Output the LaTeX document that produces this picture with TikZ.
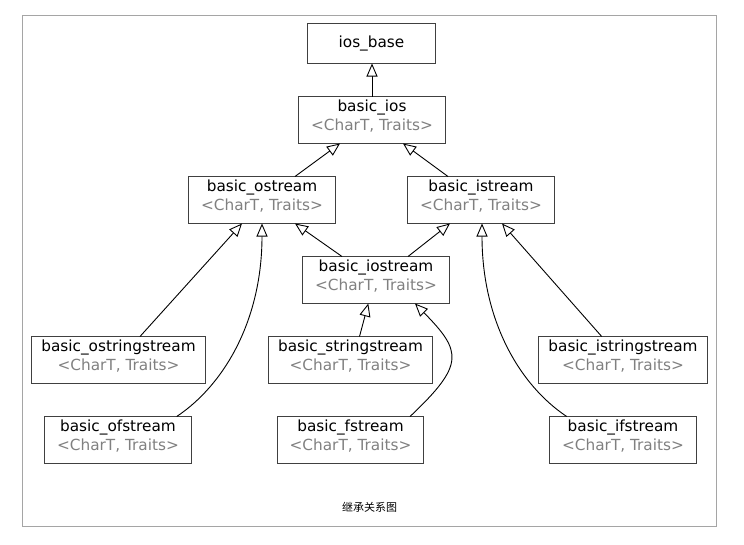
\documentclass[tikz,border=0pt]{standalone}
\usepackage{fontspec}
\setmainfont{DejaVu Sans}
\newfontfamily\cjkfont{Noto Sans CJK SC}
\usetikzlibrary{arrows.meta}
\definecolor{tgray}{RGB}{128,128,128}
\definecolor{boxline}{RGB}{64,64,64}
\definecolor{framegray}{RGB}{165,165,165}
\newcommand{\cls}[1]{\raisebox{3pt}[\height][\depth]{\begin{tabular}{@{}c@{}}#1\\{\color{tgray}<CharT, Traits>}\end{tabular}}}
\tikzset{
  cbox/.style={draw=boxline, line width=1.1pt, rectangle, inner sep=0pt, outer sep=0pt,
    minimum height=47pt, minimum width=147pt, align=center, text=black,
    font=\fontsize{15.3}{19.5}\selectfont},
  inh/.style={line width=0.9pt, draw=black, -{Triangle[length=13pt,width=11pt,fill=white]}},
}
\begin{document}
\begin{tikzpicture}[x=1pt,y=-1pt]
\useasboundingbox (0,0) rectangle (744,544);
\draw[framegray, line width=1pt] (22.5,15.5) rectangle (716.5,526.5);

\node[cbox, minimum width=128pt, minimum height=40pt] (iosbase) at (371.5,43.5) {ios\_base};
\node[cbox] (ios) at (372,120) {\cls{basic\_ios}};
\node[cbox] (ostream) at (262,200) {\cls{basic\_ostream}};
\node[cbox] (istream) at (481,200) {\cls{basic\_istream}};
\node[cbox] (iostream) at (376,280) {\cls{basic\_iostream}};
\node[cbox, minimum width=174pt] (ostringstream) at (118.5,360) {\cls{basic\_ostringstream}};
\node[cbox, minimum width=164pt] (stringstream) at (350.5,360) {\cls{basic\_stringstream}};
\node[cbox, minimum width=169pt] (istringstream) at (623,360) {\cls{basic\_istringstream}};
\node[cbox] (ofstream) at (118,440) {\cls{basic\_ofstream}};
\node[cbox, minimum width=146pt] (fstream) at (350.5,440) {\cls{basic\_fstream}};
\node[cbox] (ifstream) at (623,440) {\cls{basic\_ifstream}};

\node[font=\cjkfont\fontsize{11}{13}\selectfont, inner sep=0pt] (caption) at (369.5,507) {继承关系图};

\draw[inh] (ios.north) -- (ios.north |- iosbase.south);
\draw[inh] ([xshift=33pt]ostream.north) -- ([xshift=-32pt]ios.south);
\draw[inh] ([xshift=-33pt]istream.north) -- ([xshift=31pt]ios.south);
\draw[inh] ([xshift=-34pt]iostream.north) -- ([xshift=33pt]ostream.south);
\draw[inh] ([xshift=32pt]iostream.north) -- ([xshift=-31pt]istream.south);
\draw[inh] ([xshift=21.5pt]ostringstream.north) -- ([xshift=-20pt]ostream.south);
\draw[inh] ([xshift=-21.3pt]istringstream.north) -- ([xshift=21pt]istream.south);
\draw[inh] ([xshift=9pt]stringstream.north) -- ([xshift=-7.7pt]iostream.south);
\draw[inh] ([xshift=58.7pt]ofstream.north) .. controls +(48,-32) and +(0,96) .. ([xshift=0pt]ostream.south);
\draw[inh] ([xshift=-56.3pt]ifstream.north) .. controls +(-48,-32) and +(0,96) .. ([xshift=1pt]istream.south);
\draw[inh] ([xshift=59.5pt]fstream.north) .. controls +(55,-52) and +(47,48) .. ([xshift=39pt]iostream.south);
\end{tikzpicture}
\end{document}
